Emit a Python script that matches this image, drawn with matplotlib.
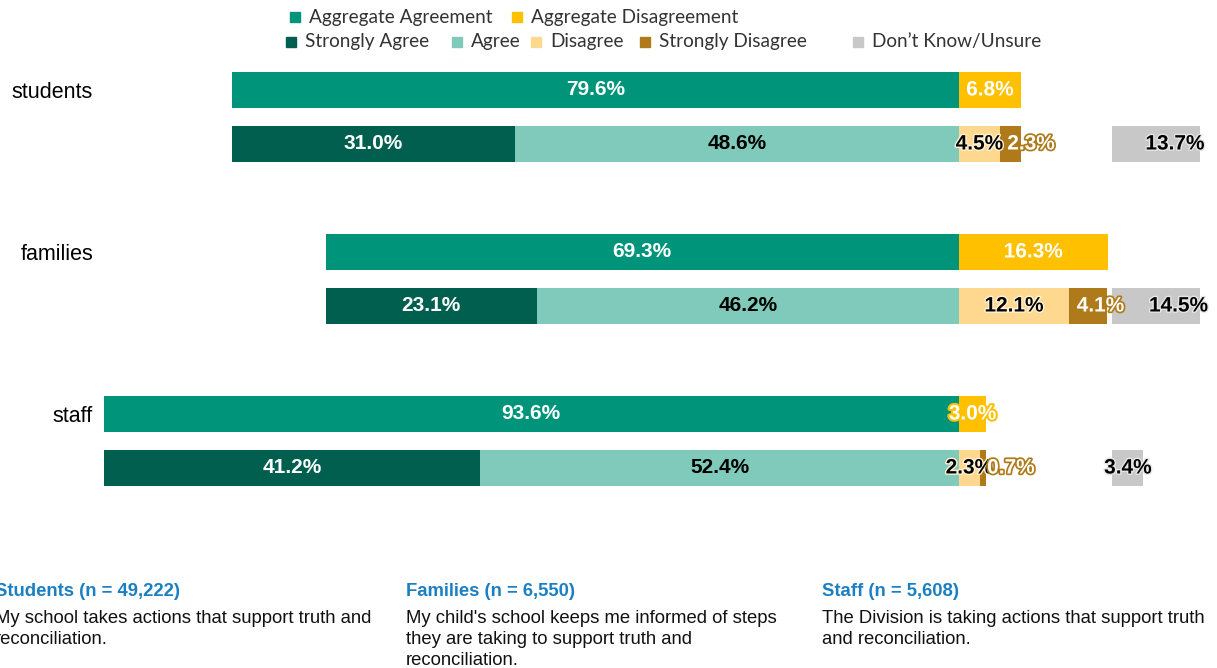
import matplotlib.pyplot as plt
import matplotlib.patheffects as pe
from matplotlib.patches import Rectangle

# values
groups = ['students', 'families', 'staff']
agg_agree = [79.6, 69.3, 93.6]
agg_disagree = [6.8, 16.3, 3.0]
strongly_agree = [31.0, 23.1, 41.2]
agree = [48.6, 46.2, 52.4]
disagree = [4.5, 12.1, 2.3]
strongly_disagree = [2.3, 4.1, 0.7]
dont_know = [13.7, 14.5, 3.4]

titles = ['Students (n = 49,222)', 'Families (n = 6,550)', 'Staff (n = 5,608)']
questions = ['My school takes actions that support truth and\nreconciliation.',
             "My child's school keeps me informed of steps\nthey are taking to support truth and\nreconciliation.",
             'The Division is taking actions that support truth\nand reconciliation.']

c_agg_a = '#00947A'
c_agg_d = '#FFC000'
c_sa = '#005F4E'
c_a = '#7FCABA'
c_d = '#FFD88F'
c_sd = '#AE7A1A'
c_dk = '#C8C8C8'

DK_START = 16.8   # don't know bars sit apart on the right
BH = 0.65
LBL = dict(fontsize=15, fontweight='bold', family='Liberation Sans', va='center')

fig = plt.figure(figsize=(12.17, 6.68), dpi=100)
ax = fig.add_axes([0.0822, 0.259, 0.9039, 0.6548])


def halo(c, w=3):
    return [pe.withStroke(linewidth=w, foreground=c)]


for i, g in enumerate(groups):
    y0 = 3 * i
    y1 = 3 * i + 1
    # aggregate row
    ax.barh(y0, -agg_agree[i], height=BH, color=c_agg_a)
    ax.barh(y0, agg_disagree[i], height=BH, color=c_agg_d)
    ax.text(-agg_agree[i] / 2, y0, f'{agg_agree[i]:.1f}%', ha='center', color='white', **LBL)
    ax.text(agg_disagree[i] / 2, y0, f'{agg_disagree[i]:.1f}%', ha='center', color='white',
            path_effects=halo(c_agg_d), **LBL)
    # detail row
    ax.barh(y1, -strongly_agree[i], left=-agree[i], height=BH, color=c_sa)
    ax.barh(y1, -agree[i], height=BH, color=c_a)
    ax.barh(y1, disagree[i], height=BH, color=c_d)
    ax.barh(y1, strongly_disagree[i], left=disagree[i], height=BH, color=c_sd)
    ax.barh(y1, dont_know[i], left=DK_START, height=BH, color=c_dk)
    ax.text(-agree[i] - strongly_agree[i] / 2, y1, f'{strongly_agree[i]:.1f}%', ha='center',
            color='white', **LBL)
    ax.text(-agree[i] / 2, y1, f'{agree[i]:.1f}%', ha='center', color='black', **LBL)
    ax.text(disagree[i] / 2, y1, f'{disagree[i]:.1f}%', ha='center', color='black',
            path_effects=halo('#fff3d6', 2), **LBL)
    ax.text(disagree[i] + 0.8, y1, f'{strongly_disagree[i]:.1f}%', ha='left', color='white',
            path_effects=halo(c_sd, 2.5), **LBL)
    ax.text(DK_START + dont_know[i] / 2, y1, f'{dont_know[i]:.1f}%', ha='center', color='black',
            path_effects=halo('#e6e6e6', 2), **LBL)

ax.set_xlim(-94, 26.4)
ax.set_ylim(7.5, -0.6)
ax.set_yticks([3 * i for i in range(len(groups))])
ax.set_yticklabels(groups, fontsize=15.5, family='Liberation Sans')
ax.tick_params(axis='y', length=0, pad=5)
ax.set_xticks([])
for s in ax.spines.values():
    s.set_visible(False)

# legend, laid out by hand like the original
W, H = 1217, 668
rows = [
    [('Aggregate Agreement', c_agg_a, 290), ('Aggregate Disagreement', c_agg_d, 512)],
    [('Strongly Agree', c_sa, 286), ('Agree', c_a, 452), ('Disagree', c_d, 531),
     ('Strongly Disagree', c_sd, 640), ('Don\u2019t Know/Unsure', c_dk, 853)],
]
for ry, row in zip([17, 42], rows):
    for lab, col, px in row:
        fig.patches.append(Rectangle((px / W, 1 - (ry + 5) / H), 10 / W, 10 / H,
                                     transform=fig.transFigure, color=col))
        fig.text((px + 19) / W, 1 - ry / H, lab, fontsize=13.7, family='Lato',
                 va='center', ha='left', color='#333333')

# question notes under the chart
for px, t, q in zip([-5, 406, 822], titles, questions):
    fig.text(px / W, 1 - 592 / H, t, fontsize=13.3, fontweight='bold', color='#1B7FC3',
             family='Liberation Sans', va='center')
    fig.text(px / W, 1 - 610 / H, q, fontsize=13.3, color='#111111',
             family='Liberation Sans', va='top', linespacing=1.3)

fig.savefig('out.png', dpi=100)
